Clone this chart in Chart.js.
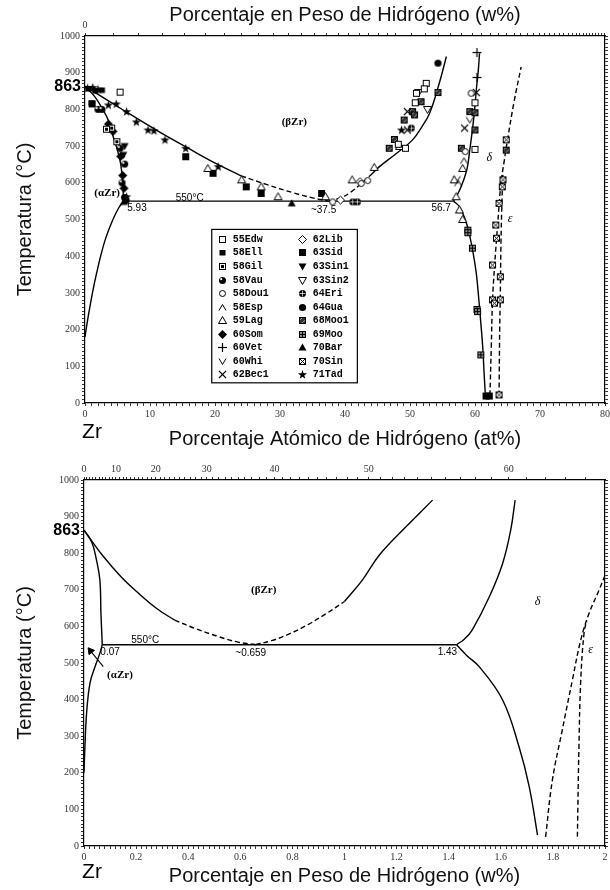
<!DOCTYPE html>
<html><head><meta charset="utf-8">
<script src="https://cdn.jsdelivr.net/npm/chart.js@4/dist/chart.umd.min.js"></script>
<style>
html,body{margin:0;padding:0;background:#fff;width:610px;height:890px;overflow:hidden}
.wrap{position:absolute;left:0;width:610px}
#w1{top:0;height:452px}#w2{top:445px;height:445px}
canvas{display:block}
</style></head><body>
<div class="wrap" id="w1"><canvas id="c1" width="610" height="452"></canvas></div>
<div class="wrap" id="w2"><canvas id="c2" width="610" height="445"></canvas></div>
<script>
// ---------- tick labels ----------
const tempLabels = [0,100,200,300,400,500,600,700,800,900,1000];
const atLabelsTop = [0,10,20,30,40,50,60,70,80];
const wtLabelsBottom = [0,0.2,0.4,0.6,0.8,1,1.2,1.4,1.6,1.8,2];
const atLabelsBottomTop = [0,10,20,30,40,50,60];
const wtLabelsTopChart = [0];

// ---------- top diagram: phase boundaries (at% H, °C) ----------
const alphaBetaAt = [[0,863],[1.5,835],[2.8,798],[3.6,770],[4.35,725],[5.0,688],[5.5,650],[5.8,600],[5.93,550]];
const alphaDeltaAt = [[0,180],[0.3,215],[0.75,262],[1.2,305],[1.8,355],[2.4,400],[3.2,450],[4.3,500],[5.2,532],[5.93,550]];
const betaLeftSolidAt = [[0,863],[6,797],[11.5,738],[15.6,697],[20.2,652],[24,619]];
const betaLeftDashAt = [[24,619],[28,595],[32,573],[35,559],[37.5,550]];
const betaRightDashAt = [[37.5,550],[39.5,560],[41,576],[42.5,598],[44,622]];
const betaRightSolidAt = [[44,622],[45.3,644],[47.9,680],[50.4,717],[51.8,752],[53,789],[54.4,865],[55.6,944]];
const eutectoidAt = [[5.93,550],[56.7,550]];
const deltaUpperAt = [[56.7,550],[57.5,575],[58.2,605],[58.8,640],[59.2,690],[59.6,744],[59.95,800],[60.2,853],[60.5,905],[60.7,953]];
const deltaLowerAt = [[56.7,550],[57.6,535],[58.5,500],[59.1,462],[59.7,410],[60.2,353],[60.6,280],[60.9,217],[61.2,150],[61.4,81],[61.6,20]];
const epsLeftAt = [[62.3,20],[62.5,150],[62.7,280],[63.0,370],[63.5,490],[64.0,600],[64.5,660],[65.0,717],[66.0,820],[67.1,916]];
const epsRightAt = [[63.7,20],[63.8,200],[63.9,300],[64.0,440],[64.15,550],[64.3,630]];

// ---------- top diagram: experimental points (at% H, °C) ----------
const p55Edw = [[5.4,847],[52.5,871],[52.2,856],[51.0,844],[50.8,818],[49.3,694],[60.0,818],[60.0,691],[48.2,705]];
const p58Ell = [[0.6,857],[1.0,818],[1.6,851],[2.6,853]];
const p58Gil = [[4.1,749],[4.9,712],[3.3,746]];
const p58Vau = [[2.0,800],[2.6,800],[5.4,694],[6.1,651],[5.7,600]];
const p58Dou1 = [[38.1,548],[59.4,844],[58.5,685],[43.5,606],[42.5,598]];
const p58Esp = [[57.4,599],[58.3,660]];
const p59Lag = [[18.9,639],[24.1,608],[27.1,589],[29.7,562],[37,562],[41.1,608],[58.1,639],[56.8,608],[57.1,562],[57.6,526],[58.1,500],[48.4,699],[44.5,642]];
const p60Som = [[5.8,620],[6.0,585],[3.6,760],[4.3,740],[5.5,672]];
const p60Vet = [[60.3,955],[60.3,887]];
const p60Whi = [[59.2,771],[57.2,610]];
const p62Bec1 = [[49.6,794],[49.6,744],[60.2,846],[58.4,749]];
const p62Lib = [[39.3,553],[42.3,603]];
const p63Sid = [[15.5,671],[19.7,626],[24.8,589],[27.1,571],[36.4,571],[61.7,19],[62.2,19],[1.1,815]];
const p63Sin1 = [[5.9,676],[6.1,700]];
const p63Sin2 = [[51.3,846],[52.7,800]];
const p64Eri = [[41.2,548],[41.9,548],[50.2,749]];
const p64Gua = [[54.3,926],[6.1,560],[6.3,552]];
const p68Moo1 = [[54.3,846],[51.7,821],[50.4,794],[50.7,785],[49.1,771],[47.6,718],[46.8,694],[59.2,794],[60.0,791],[60.0,744],[57.9,694],[64.8,689]];
const p69Moo = [[58.9,471],[58.9,464],[59.6,422],[60.3,255],[60.4,249],[60.9,131]];
const p70Bar = [[31.8,544],[6.0,548]];
const p70Sin = [[64.8,717],[64.3,608],[64.2,589],[63.7,544],[63.2,485],[63.3,449],[62.7,376],[63.9,344],[62.7,281],[63.0,272],[63.9,281],[63.7,22]];
const p71Tad = [[3.6,812],[4.8,815],[6.4,794],[7.9,766],[9.7,744],[10.6,742],[12.3,717],[15.5,694],[20.5,644],[6.4,562],[2.0,855],[48.7,744],[1.2,860],[0.4,858]];

// ---------- bottom diagram: phase boundaries (w% H, °C) ----------
const alphaBetaW = [[0,863],[0.03,830],[0.048,781],[0.061,727],[0.065,636],[0.068,585],[0.07,550]];
const alphaDeltaW = [[0,200],[0.003,262],[0.01,363],[0.023,445],[0.042,489],[0.061,527],[0.07,550]];
const betaLeftSolidW = [[0,863],[0.07,795],[0.143,735],[0.204,694],[0.279,649],[0.348,617]];
const betaLeftDashW = [[0.348,617],[0.428,594],[0.517,572],[0.591,557],[0.659,550]];
const betaRightDashW = [[0.659,550],[0.72,561],[0.79,580],[0.86,605],[0.93,635],[1.0,668]];
const betaRightSolidW = [[1.0,668],[1.07,728],[1.134,795],[1.236,872],[1.338,945]];
const eutectoidW = [[0.07,550],[1.43,550]];
const deltaUpperW = [[1.43,550],[1.46,565],[1.49,590],[1.556,681],[1.607,772],[1.638,863],[1.655,945]];
const deltaLowerW = [[1.43,550],[1.47,520],[1.517,490],[1.607,399],[1.67,271],[1.709,162],[1.741,30]];
const epsLeftW = [[1.772,25],[1.798,180],[1.836,317],[1.875,454],[1.907,563],[1.939,636],[1.977,699],[2.02,775]];
const epsRightW = [[1.894,25],[1.9,271],[1.907,454],[1.92,585],[1.93,615]];
const arrowW = [[0.074,490],[0.025,533]];

// ---------- helpers ----------
const wToAt = w => { const h = w/1.008, z = (100-w)/91.224; return 100*h/(h+z); };
const atToW = a => 100*a*1.008/(a*1.008 + (100-a)*91.224);
const near = (v, arr) => arr.some(a => Math.abs(a - v) < 1e-6);
const fmt = v => String(Math.round(v*10)/10);
const range = (a,b,s) => { const r=[]; const n=Math.round((b-a)/s); for(let i=0;i<=n;i++) r.push(Math.round((a+i*s)*1e6)/1e6); return r; };
const pts = arr => arr.map(([x,y]) => ({x,y}));

function makeMarker(kind){
  const S=11, c=document.createElement('canvas'); c.width=S; c.height=S;
  const g=c.getContext('2d'); g.lineWidth=1; g.strokeStyle='#000'; g.fillStyle='#000';
  const poly=(p,fill,stroke)=>{g.beginPath(); p.forEach((q,i)=> i?g.lineTo(q[0],q[1]):g.moveTo(q[0],q[1])); g.closePath(); if(fill){g.fillStyle=fill; g.fill();} if(stroke) g.stroke();};
  const circle=(r,fill,stroke)=>{g.beginPath(); g.arc(5.5,5.5,r,0,Math.PI*2); if(fill){g.fillStyle=fill; g.fill();} if(stroke) g.stroke();};
  const line=(a,b,c2,d)=>{g.beginPath(); g.moveTo(a,b); g.lineTo(c2,d); g.stroke();};
  const openSq=()=>{g.fillStyle='#fff'; g.fillRect(2,2,7,7); g.strokeRect(2.5,2.5,6,6);};
  switch(kind){
    case 'sqOpen': openSq(); break;
    case 'sqFilled': g.fillRect(2,2,7,7); break;
    case 'sqSmall': g.fillRect(2.5,3,6,5.5); break;
    case 'sqDot': openSq(); g.fillStyle='#000'; g.fillRect(4,4,3,3); break;
    case 'sqHatch': g.fillStyle='#333'; g.fillRect(2,2,7,7); g.strokeStyle='#aaa'; g.lineWidth=0.8; line(2,6,6,2); line(4,9,9,4); g.strokeStyle='#000'; g.lineWidth=1; g.strokeRect(2.5,2.5,6,6); break;
    case 'sqGrid': g.fillStyle='#888'; g.fillRect(2,2,7,7); g.strokeRect(2.5,2.5,6,6); line(5.5,2.5,5.5,8.5); line(2.5,5.5,8.5,5.5); break;
    case 'sqX': openSq(); line(2.5,2.5,8.5,8.5); line(8.5,2.5,2.5,8.5); break;
    case 'circOpen': circle(3,'#fff',true); break;
    case 'circFilled': circle(3.6,'#000'); break;
    case 'circHalf': circle(3.5,'#000'); g.fillStyle='#fff'; g.beginPath(); g.arc(4.2,4.2,1.1,0,Math.PI*2); g.fill(); break;
    case 'circCross': circle(3.5,'#000'); g.strokeStyle='#fff'; g.lineWidth=0.7; line(5.5,2.5,5.5,8.5); line(2.5,5.5,8.5,5.5); break;
    case 'triOpen': poly([[5.5,1.5],[9.5,8.5],[1.5,8.5]],'#fff',true); break;
    case 'triFilled': poly([[5.5,1.5],[9.5,8.5],[1.5,8.5]],'#000'); break;
    case 'triDownOpen': poly([[1.5,2.5],[9.5,2.5],[5.5,9.5]],'#fff',true); break;
    case 'triDownFilled': poly([[1.5,2.5],[9.5,2.5],[5.5,9.5]],'#000'); break;
    case 'caret': g.beginPath(); g.moveTo(2,8.5); g.lineTo(5.5,2.5); g.lineTo(9,8.5); g.stroke(); break;
    case 'vee': g.beginPath(); g.moveTo(2,2.5); g.lineTo(5.5,8.5); g.lineTo(9,2.5); g.stroke(); break;
    case 'diaFilled': poly([[5.5,1],[10,5.5],[5.5,10],[1,5.5]],'#000'); break;
    case 'diaOpen': poly([[5.5,1.5],[9.5,5.5],[5.5,9.5],[1.5,5.5]],'#fff',true); break;
    case 'plus': g.lineWidth=1.2; line(5.5,1,5.5,10); line(1,5.5,10,5.5); break;
    case 'cross': g.lineWidth=1.1; line(2,2,9,9); line(9,2,2,9); break;
    case 'star': { g.beginPath(); for(let i=0;i<10;i++){ const r=i%2?1.9:4.8, a=-Math.PI/2+i*Math.PI/5; const px=5.5+r*Math.cos(a), py=5.8+r*Math.sin(a); i?g.lineTo(px,py):g.moveTo(px,py);} g.closePath(); g.fill(); break; }
  }
  return c;
}

const series = [
  ['55Edw', p55Edw, 'sqOpen'], ['58Ell', p58Ell, 'sqSmall'], ['58Gil', p58Gil, 'sqDot'],
  ['58Vau', p58Vau, 'circHalf'], ['58Dou1', p58Dou1, 'circOpen'], ['58Esp', p58Esp, 'caret'],
  ['59Lag', p59Lag, 'triOpen'], ['60Som', p60Som, 'diaFilled'], ['60Vet', p60Vet, 'plus'],
  ['60Whi', p60Whi, 'vee'], ['62Bec1', p62Bec1, 'cross'],
  ['62Lib', p62Lib, 'diaOpen'], ['63Sid', p63Sid, 'sqFilled'], ['63Sin1', p63Sin1, 'triDownFilled'],
  ['63Sin2', p63Sin2, 'triDownOpen'], ['64Eri', p64Eri, 'circCross'], ['64Gua', p64Gua, 'circFilled'],
  ['68Moo1', p68Moo1, 'sqHatch'], ['69Moo', p69Moo, 'sqGrid'], ['70Bar', p70Bar, 'triFilled'],
  ['70Sin', p70Sin, 'sqX'], ['71Tad', p71Tad, 'star']
];

function lineDs(arr, dashed){
  return { data: pts(arr), showLine:true, borderColor:'#000', borderWidth:1.4, pointRadius:0,
    tension:0.4, borderDash: dashed?[5,3]:[], fill:false, xAxisID:'x', yAxisID:'y', order:2 };
}
function markerDs(label, arr, kind){
  const img = makeMarker(kind);
  return { label, data: pts(arr), showLine:false, pointStyle: img, pointRadius:4, legendMarker: img,
    xAxisID:'x', yAxisID:'y', order:0 };
}

const tickFont = {family:'Liberation Serif', size:10};
const titleFont = {family:'Liberation Sans', size:20, lineHeight:1.2};
const gridOpt = {display:true, drawOnChartArea:false, drawTicks:true, tickLength:3, color:'#000', lineWidth:0.8};
const borderOpt = {display:true, color:'#000', width:1.2};

function axis(o){
  return Object.assign({
    type:'linear', grid:gridOpt, border:borderOpt,
    ticks:{autoSkip:false, maxRotation:0, minRotation:0, padding:2, color:'#333', font:tickFont, callback:()=>''}
  }, o);
}
function fixedTicks(vals){ return s => { s.ticks = vals.map(v=>({value:v})); }; }

const annotPlugin = {
  id:'annot',
  afterDatasetsDraw(chart, args, opts){
    const {ctx, chartArea:ca, scales} = chart;
    const x = scales.x, y = scales.y;
    (opts.items||[]).forEach(it => {
      ctx.save();
      ctx.font = it.font; ctx.fillStyle = '#000'; ctx.textAlign = it.align||'center'; ctx.textBaseline = 'middle';
      const px = it.left!==undefined ? ca.left + it.left : x.getPixelForValue(it.x);
      const py = it.below!==undefined ? ca.bottom + it.below : y.getPixelForValue(it.y);
      ctx.fillText(it.text, px, py);
      ctx.restore();
    });
    const lg = opts.legend;
    if (lg){
      const L=x.getPixelForValue(lg.box[0]), R=x.getPixelForValue(lg.box[1]);
      const T=y.getPixelForValue(lg.box[2]), B=y.getPixelForValue(lg.box[3]);
      ctx.save();
      ctx.fillStyle='#fff'; ctx.fillRect(L,T,R-L,B-T);
      ctx.strokeStyle='#000'; ctx.lineWidth=1.2; ctx.strokeRect(L,T,R-L,B-T);
      const ds = chart.data.datasets.filter(d=>d.legendMarker);
      const rows = Math.ceil(ds.length/2), step=(B-T-18)/(rows-1);
      ctx.font='bold 10px "Liberation Mono"'; ctx.fillStyle='#000'; ctx.textAlign='left'; ctx.textBaseline='middle';
      ds.forEach((d,i)=>{
        const col = i<rows?0:1, row = i%rows;
        const yy = T+10+row*step, xs = L+11+col*80;
        ctx.drawImage(d.legendMarker, Math.round(xs-5.5), Math.round(yy-5.5));
        ctx.fillText(d.label, xs+10, yy);
      });
      ctx.restore();
    }
  }
};

// ---------- chart 1 ----------
const tempMinor = range(0,1000,10);
const atMinor = range(0,80,1);
const wTopMinor = range(0,1,0.05).concat(range(1.1,4.2,0.1)).map(wToAt).filter(v=>v<=80);

const ds1 = series.map(s=>markerDs(s[0],s[1],s[2])).concat([
  lineDs(alphaBetaAt), lineDs(alphaDeltaAt), lineDs(betaLeftSolidAt), lineDs(betaLeftDashAt,true),
  lineDs(betaRightDashAt,true), lineDs(betaRightSolidAt), lineDs(eutectoidAt), lineDs(deltaUpperAt),
  lineDs(deltaLowerAt), lineDs(epsLeftAt,true), lineDs(epsRightAt,true)
]);

new Chart(document.getElementById('c1'), {
  type:'scatter',
  data:{datasets: ds1},
  options:{
    responsive:false, animation:false, devicePixelRatio:1, events:[],
    layout:{padding:0},
    plugins:{legend:{display:false}, tooltip:{enabled:false},
      annot:{
        items:[
          {text:'863', left:-4, y:863, font:'bold 16px "Liberation Sans"', align:'right'},
          {text:'Zr', left:7, below:29, font:'21px "Liberation Sans"'},
          {text:'(βZr)', x:32.2, y:766, font:'bold 11px "Liberation Serif"'},
          {text:'(αZr)', x:3.4, y:572, font:'bold 11px "Liberation Serif"'},
          {text:'550°C', x:16.1, y:559, font:'10px "Liberation Sans"'},
          {text:'5.93', x:8.0, y:531, font:'10px "Liberation Sans"'},
          {text:'~37.5', x:36.7, y:526, font:'10px "Liberation Sans"'},
          {text:'56.7', x:54.8, y:531, font:'10px "Liberation Sans"'},
          {text:'δ', x:62.2, y:668, font:'italic 12px "Liberation Serif"'},
          {text:'ε', x:65.4, y:501, font:'italic 12px "Liberation Serif"'}
        ],
        legend:{box:[19.5,41.9,473,55]}
      }
    },
    scales:{
      x: axis({axis:'x', position:'bottom', min:0, max:80,
        afterBuildTicks: fixedTicks(atMinor),
        afterFit: s=>{ s.height=49; s.paddingLeft=0; s.paddingRight=0; },
        ticks:Object.assign({}, axis({}).ticks, {callback:v=> near(v,atLabelsTop)?fmt(v):''}),
        title:{display:true, text:'Porcentaje Atómico de Hidrógeno (at%)', font:titleFont, color:'#111', padding:{top:0,bottom:1}}}),
      xTop: axis({axis:'x', position:'top', min:0, max:80,
        afterBuildTicks: fixedTicks(wTopMinor),
        afterFit: s=>{ s.height=36; s.paddingLeft=0; s.paddingRight=0; },
        ticks:Object.assign({}, axis({}).ticks, {callback:v=> near(atToW(v),wtLabelsTopChart)?fmt(atToW(v)):''}),
        title:{display:true, text:'Porcentaje en Peso de Hidrógeno (w%)', font:titleFont, color:'#111', padding:{top:3,bottom:0}}}),
      y: axis({axis:'y', position:'left', min:0, max:1000,
        afterBuildTicks: fixedTicks(tempMinor),
        afterFit: s=>{ s.width=85; s.paddingTop=0; s.paddingBottom=0; },
        ticks:Object.assign({}, axis({}).ticks, {callback:v=> near(v,tempLabels)?fmt(v):''}),
        title:{display:true, text:'Temperatura (°C)', font:titleFont, color:'#111', padding:{top:13,bottom:0}}}),
      yR: axis({axis:'y', position:'right', min:0, max:1000,
        afterBuildTicks: fixedTicks(tempMinor),
        afterFit: s=>{ s.width=4; s.paddingTop=0; s.paddingBottom=0; },
        ticks:{display:false}})
    }
  },
  plugins:[annotPlugin]
});

// ---------- chart 2 ----------
const wMinor = range(0,2,0.02);
const atTopMinor = range(0,64,1).map(atToW);

const ds2 = [
  {data: pts([arrowW[1]]), showLine:false, pointStyle:'triangle', rotation:-38, pointRadius:4,
   backgroundColor:'#000', borderColor:'#000', xAxisID:'x', yAxisID:'y', order:0},
  lineDs(arrowW),
  lineDs(alphaBetaW), lineDs(alphaDeltaW), lineDs(betaLeftSolidW), lineDs(betaLeftDashW,true),
  lineDs(betaRightDashW,true), lineDs(betaRightSolidW), lineDs(eutectoidW), lineDs(deltaUpperW),
  lineDs(deltaLowerW), lineDs(epsLeftW,true), lineDs(epsRightW,true)
];
ds2[1].tension = 0; ds2[1].borderWidth = 1.1;

new Chart(document.getElementById('c2'), {
  type:'scatter',
  data:{datasets: ds2},
  options:{
    responsive:false, animation:false, devicePixelRatio:1, events:[],
    layout:{padding:0},
    plugins:{legend:{display:false}, tooltip:{enabled:false},
      annot:{
        items:[
          {text:'863', left:-4, y:863, font:'bold 16px "Liberation Sans"', align:'right'},
          {text:'Zr', left:8, below:26, font:'21px "Liberation Sans"'},
          {text:'(βZr)', x:0.69, y:700, font:'bold 11px "Liberation Serif"'},
          {text:'(αZr)', x:0.138, y:467, font:'bold 11px "Liberation Serif"'},
          {text:'550°C', x:0.235, y:561, font:'10px "Liberation Sans"'},
          {text:'0.07', x:0.1, y:530, font:'10px "Liberation Sans"'},
          {text:'~0.659', x:0.64, y:527, font:'10px "Liberation Sans"'},
          {text:'1.43', x:1.395, y:530, font:'10px "Liberation Sans"'},
          {text:'δ', x:1.741, y:667, font:'italic 12px "Liberation Serif"'},
          {text:'ε', x:1.945, y:535, font:'italic 12px "Liberation Serif"'}
        ]
      }
    },
    scales:{
      x: axis({axis:'x', position:'bottom', min:0, max:2,
        afterBuildTicks: fixedTicks(wMinor),
        afterFit: s=>{ s.height=44; s.paddingLeft=0; s.paddingRight=0; },
        ticks:Object.assign({}, axis({}).ticks, {callback:v=> near(v,wtLabelsBottom)?fmt(v):''}),
        title:{display:true, text:'Porcentaje en Peso de Hidrógeno (w%)', font:titleFont, color:'#111', padding:{top:0,bottom:1.5}}}),
      xTop: axis({axis:'x', position:'top', min:0, max:2,
        afterBuildTicks: fixedTicks(atTopMinor),
        afterFit: s=>{ s.height=35; s.paddingLeft=0; s.paddingRight=0; },
        ticks:Object.assign({}, axis({}).ticks, {callback:v=> near(Math.round(wToAt(v)*1e4)/1e4,atLabelsBottomTop)?fmt(wToAt(v)):''})}),
      y: axis({axis:'y', position:'left', min:0, max:1000,
        afterBuildTicks: fixedTicks(tempMinor),
        afterFit: s=>{ s.width=84; s.paddingTop=0; s.paddingBottom=0; },
        ticks:Object.assign({}, axis({}).ticks, {callback:v=> near(v,tempLabels)?fmt(v):''}),
        title:{display:true, text:'Temperatura (°C)', font:titleFont, color:'#111', padding:{top:13,bottom:0}}}),
      yR: axis({axis:'y', position:'right', min:0, max:1000,
        afterBuildTicks: fixedTicks(tempMinor),
        afterFit: s=>{ s.width=4; s.paddingTop=0; s.paddingBottom=0; },
        ticks:{display:false}})
    }
  },
  plugins:[annotPlugin]
});
</script></body></html>
